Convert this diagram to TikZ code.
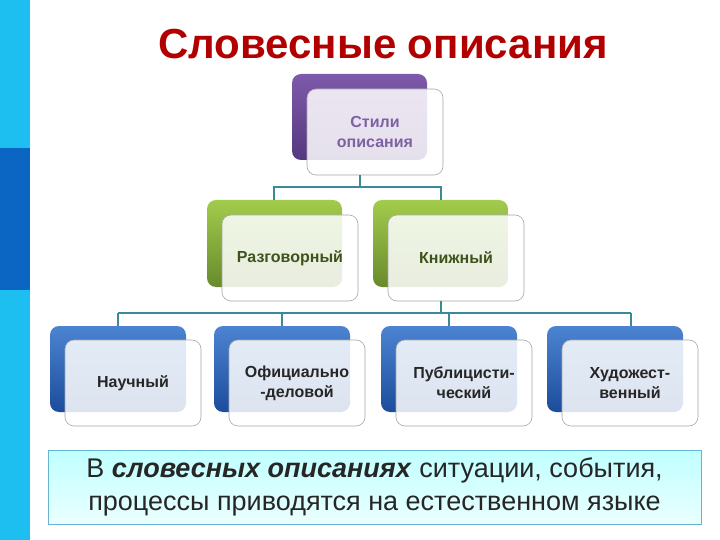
\documentclass[tikz,border=0pt]{standalone}
\usepackage{fontspec}
\setmainfont{Liberation Sans}
\definecolor{stripe}{HTML}{1CBFEF}
\definecolor{stripedk}{HTML}{0A66C2}
\definecolor{pt}{HTML}{7E5AAA}\definecolor{pb}{HTML}{553880}
\definecolor{gt}{HTML}{A2CC4C}\definecolor{gb}{HTML}{688A2C}
\definecolor{bt}{HTML}{4C84D2}\definecolor{bb}{HTML}{1C4C9C}
\definecolor{ln}{HTML}{3A8A9A}
\begin{document}
\begin{tikzpicture}[x=1pt,y=-1pt,
 back/.style={rounded corners=9pt},
 front/.style={rounded corners=9pt,draw=gray!70,fill=white,fill opacity=0.85,line width=0.6pt,minimum width=136pt,minimum height=86pt,text opacity=1,align=center,font=\fontsize{16}{20}\selectfont\bfseries},
 conn/.style={draw=ln,line width=1.3pt}]
\useasboundingbox (0,0) rectangle (720,540);
\fill[white] (0,0) rectangle (720,540);
\fill[stripe] (0,0) rectangle (30,540);
\fill[stripedk] (0,148) rectangle (30,290);
\node[font=\fontsize{42}{46}\selectfont\bfseries,text=red!70!black] (title) at (383,44) {Словесные описания};
% top
\shade[back,top color=pt,bottom color=pb] (292,74) rectangle (427,160);
\node[front,text=pt!80!gray] (top) at (375,132) {Стили\\описания};
% level 2
\foreach \x/\n/\t in {207/raz/Разговорный,373/kni/Книжный}{
 \shade[back,top color=gt,bottom color=gb] (\x,200) rectangle (\x+135,287);
 \node[front,text=gb!60!black] (\n) at (\x+83,258) {\t};
}
% level 3
\foreach \x/\n/\t in {50/nau/Научный,214/ofi/{Официально\\-деловой},381/pub/{Публицисти-\\ческий},547/hud/{Художест-\\венный}}{
 \shade[back,top color=bt,bottom color=bb] (\x,326) rectangle (\x+136,412);
 \node[front,text=black!85] (\n) at (\x+83,383) {\t};
}
\draw[conn] (top.south) ++(-15,0) -- ++(0,11);
\draw[conn] (274,200) -- (274,187) -- (441,187) -- (441,200);
\draw[conn] (kni.south) ++(-15,0) -- ++(0,12);
\draw[conn] (118,313) -- (631,313);
\foreach \x in {118,282,449,631} \draw[conn] (\x,313) -- (\x,326);
\shade[top color=cyan!25,bottom color=cyan!8] (48,450) rectangle (701,524);
\draw[cyan!50!teal!70,line width=1pt] (48,450) rectangle (701,524);
\node[align=center,font=\fontsize{27}{33}\selectfont,text=black!85] (note) at (374.5,487) {В \textbf{\textit{словесных описаниях}} ситуации, события,\\процессы приводятся на естественном языке};
\end{tikzpicture}
\end{document}
